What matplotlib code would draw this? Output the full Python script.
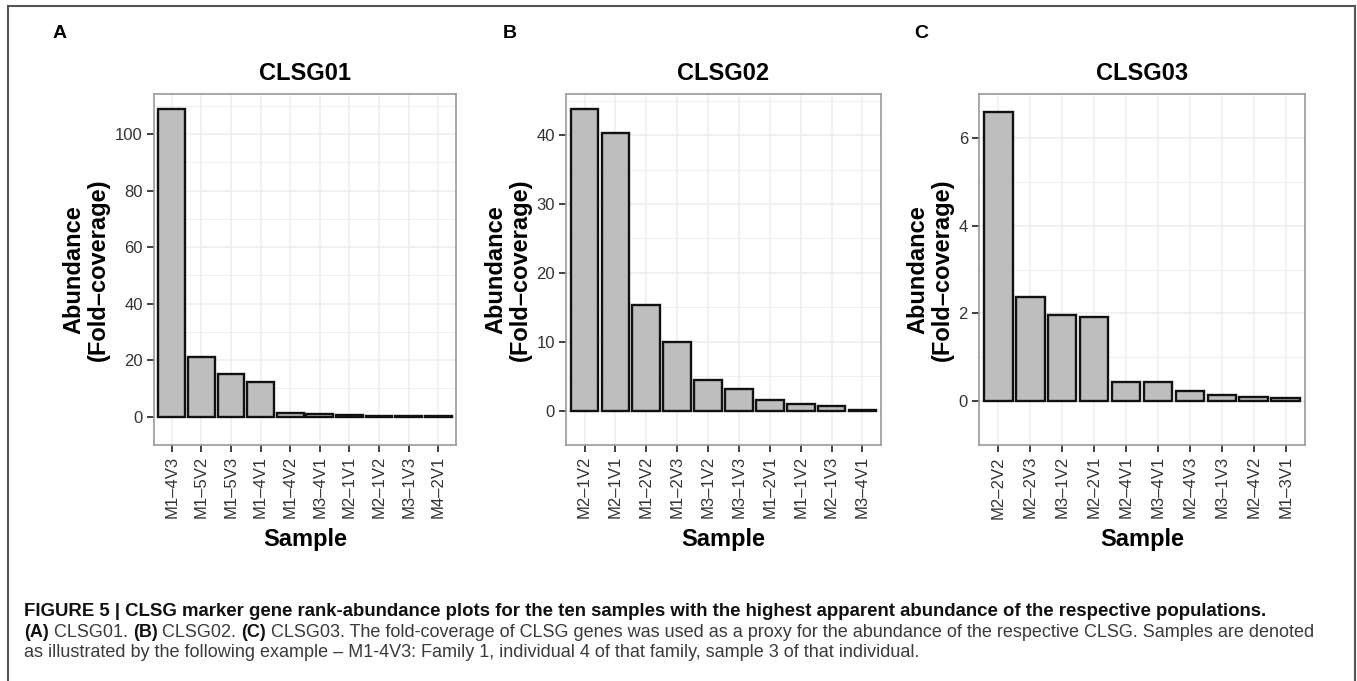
import matplotlib
matplotlib.use("Agg")
import matplotlib.pyplot as plt
from matplotlib.lines import Line2D
import numpy as np

plt.rcParams['font.family'] = ['Liberation Sans', 'DejaVu Sans']

W, H = 1357, 681
DPI = 100

# ---------------- data ----------------
titles = ["CLSG01", "CLSG02", "CLSG03"]
panel_letters = ["A", "B", "C"]

samples_a = ["M1–4V3", "M1–5V2", "M1–5V3", "M1–4V1", "M1–4V2",
             "M3–4V1", "M2–1V1", "M2–1V2", "M3–1V3", "M4–2V1"]
abund_a = [108.8, 21.2, 15.3, 12.3, 1.2, 0.8, 0.5, 0.4, 0.3, 0.2]

samples_b = ["M2–1V2", "M2–1V1", "M1–2V2", "M1–2V3", "M3–1V2",
             "M3–1V3", "M1–2V1", "M1–1V2", "M2–1V3", "M3–4V1"]
abund_b = [43.8, 40.3, 15.3, 10.0, 4.4, 3.2, 1.5, 0.95, 0.65, 0.15]

samples_c = ["M2–2V2", "M2–2V3", "M3–1V2", "M2–2V1", "M2–4V1",
             "M3–4V1", "M2–4V3", "M3–1V3", "M2–4V2", "M1–3V1"]
abund_c = [6.58, 2.37, 1.96, 1.92, 0.44, 0.43, 0.24, 0.13, 0.10, 0.065]

yticks_a = [0, 20, 40, 60, 80, 100]
yticks_b = [0, 10, 20, 30, 40]
yticks_c = [0, 2, 4, 6]

caption_line1 = ("FIGURE 5 | CLSG marker gene rank-abundance plots for the ten samples "
                 "with the highest apparent abundance of the respective populations.")
caption_line2 = [("(A)", "bold"), (" CLSG01. ", "normal"), ("(B)", "bold"), (" CLSG02. ", "normal"),
                 ("(C)", "bold"),
                 (" CLSG03. The fold-coverage of CLSG genes was used as a proxy for the abundance "
                  "of the respective CLSG. Samples are denoted", "normal")]
caption_line3 = ("as illustrated by the following example – M1-4V3: Family 1, individual 4 "
                 "of that family, sample 3 of that individual.")

# ---------------- layout (pixels) ----------------
fig = plt.figure(figsize=(W / DPI, H / DPI), dpi=DPI)
fig.patch.set_facecolor("white")

ax_px = [(154, 456), (566, 881), (979, 1305)]
ax_top, ax_bot = 94, 445
ylab_x = [86, 508, 930]
letter_x = [60, 510, 921]

panels = [
    (samples_a, abund_a, yticks_a),
    (samples_b, abund_b, yticks_b),
    (samples_c, abund_c, yticks_c),
]

grid_col = "#eeeeee"
for i, (samples, vals, yt) in enumerate(panels):
    l, r = ax_px[i]
    ax = fig.add_axes([l / W, 1 - ax_bot / H, (r - l) / W, (ax_bot - ax_top) / H])
    x = np.arange(len(samples))
    m = max(vals)
    ax.set_ylim(-0.05 * m, 1.05 * m)
    ax.set_xlim(-0.6, len(samples) - 0.4)
    # grid
    step = yt[1] - yt[0]
    minor = [v + step / 2 for v in yt] + [yt[0] - step / 2]
    ax.set_yticks(yt)
    ax.set_yticks(minor, minor=True)
    ax.set_xticks(x)
    ax.grid(True, which="major", color=grid_col, lw=1.1, zorder=0)
    ax.grid(True, which="minor", axis="y", color=grid_col, lw=0.6, zorder=0)
    ax.set_axisbelow(True)
    ax.bar(x, vals, width=0.9, color="#bebebe", edgecolor="#111111", lw=1.7, zorder=2)
    ax.set_xticklabels(samples, rotation=90, fontsize=12, color="#333333")
    ax.set_yticklabels([str(v) for v in yt], fontsize=12, color="#333333")
    ax.tick_params(axis="both", which="major", length=5, width=1.3, color="#333333", pad=3)
    ax.tick_params(axis="y", which="minor", length=0)
    for s in ax.spines.values():
        s.set_color("#9a9a9a")
        s.set_linewidth(1.2)
    ax.set_title(titles[i], fontsize=17, fontweight="bold", pad=10)
    ax.set_xlabel("Sample", fontsize=17, fontweight="bold", labelpad=7)
    fig.text(ylab_x[i] / W, 1 - (ax_top + ax_bot) / 2 / H, "Abundance\n(Fold–coverage)",
             rotation=90, ha="center", va="center", fontsize=17, fontweight="bold",
             linespacing=1.05)
    fig.text(letter_x[i] / W, 1 - 33 / H, panel_letters[i], ha="center", va="center",
             fontsize=14, fontweight="bold")

# ---------------- figure frame ----------------
fc = "#555555"
fig.add_artist(Line2D([8 / W, 8 / W], [0, 1 - 6 / H], color=fc, lw=1.5))
fig.add_artist(Line2D([8 / W, 1355 / W], [1 - 6 / H, 1 - 6 / H], color=fc, lw=1.5))
fig.add_artist(Line2D([1355 / W, 1355 / W], [0, 1 - 6 / H], color=fc, lw=1.5))

# ---------------- caption ----------------
renderer = fig.canvas.get_renderer()


def text_width(s, size, weight):
    t = fig.text(0, 0, s, fontsize=size, fontweight=weight)
    w = t.get_window_extent(renderer).width
    t.remove()
    return w


def draw_segments(segs, x0, ybase, size, colors):
    x = x0
    for (s, wgt) in segs:
        col = colors[wgt]
        t = fig.text(x / W, 1 - ybase / H, s, fontsize=size, fontweight=wgt,
                     color=col, ha="left", va="baseline")
        x += t.get_window_extent(renderer).width
    return x


cap_x = 24
colors = {"bold": "#111111", "normal": "#3a3a3a"}
# fit sizes to widths measured in reference
base = 10
w1 = text_width(caption_line1, base, "bold")
size1 = base * 1252 / w1
w2 = sum(text_width(s, base, wg) for s, wg in caption_line2)
size2 = base * 1298 / w2

draw_segments([(caption_line1, "bold")], cap_x, 616, size1, colors)
draw_segments(caption_line2, cap_x, 637, size2, colors)
draw_segments([(caption_line3, "normal")], cap_x, 657, size2, colors)

fig.savefig("out.png", dpi=DPI, facecolor="white")
